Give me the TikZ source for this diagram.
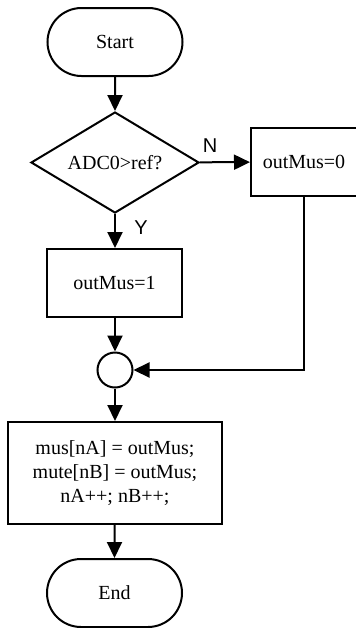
\documentclass[tikz,border=0pt]{standalone}
\usepackage{fontspec}
\setmainfont{Liberation Serif}
\setsansfont{Liberation Sans}
\usetikzlibrary{shapes.misc,shapes.geometric,arrows.meta}
\begin{document}
\begin{tikzpicture}[x=0.5pt,y=-0.5pt,
  line width=1pt,
  font=\fontsize{10}{12}\selectfont,
  every node/.style={draw, inner sep=0pt, align=center},
  terminal/.style={rounded rectangle, minimum width=67.5pt, minimum height=34pt},
  decision/.style={diamond, aspect=1.66, minimum width=84pt, minimum height=50.5pt},
  process/.style={rectangle},
  junction/.style={circle, minimum size=17.5pt},
  flow/.style={-{Triangle[length=8pt,width=7.5pt]}},
  branch/.style={draw=none, font=\sffamily\fontsize{10}{12}\selectfont}
]
\useasboundingbox (0,0) rectangle (356,628);

% nodes of the flowchart
\node[terminal] (start) at (115,42) {Start};
\node[decision] (test) at (115,162.5) {ADC0>ref?};
\node[process, minimum width=53pt, minimum height=34pt] (zero) at (304,162) {outMus=0};
\node[process, minimum width=67.5pt, minimum height=34pt] (one) at (114.5,283) {outMus=1};
\node[junction] (merge) at (115,370) {};
\node[process, minimum width=107pt, minimum height=51pt] (store) at (115,473)
  {mus[nA] = outMus;\\ mute[nB] = outMus;\\ nA++; nB++;};
\node[terminal] (stop) at (114.5,593) {End};

% branch labels
\node[branch] (nlabel) at (210,146) {N};
\node[branch] (ylabel) at (141,228) {Y};

% connectors
\draw[flow] (start) -- (test);
\draw[flow] (test) -- (zero);
\draw[flow] (test) -- (test |- one.north);
\draw[flow] (one.south -| merge) -- (merge);
\draw[flow] (zero.south) |- (merge.east);
\draw[flow] (merge) -- (store);
\draw[flow] (store.south -| stop) -- (stop);
\end{tikzpicture}
\end{document}
